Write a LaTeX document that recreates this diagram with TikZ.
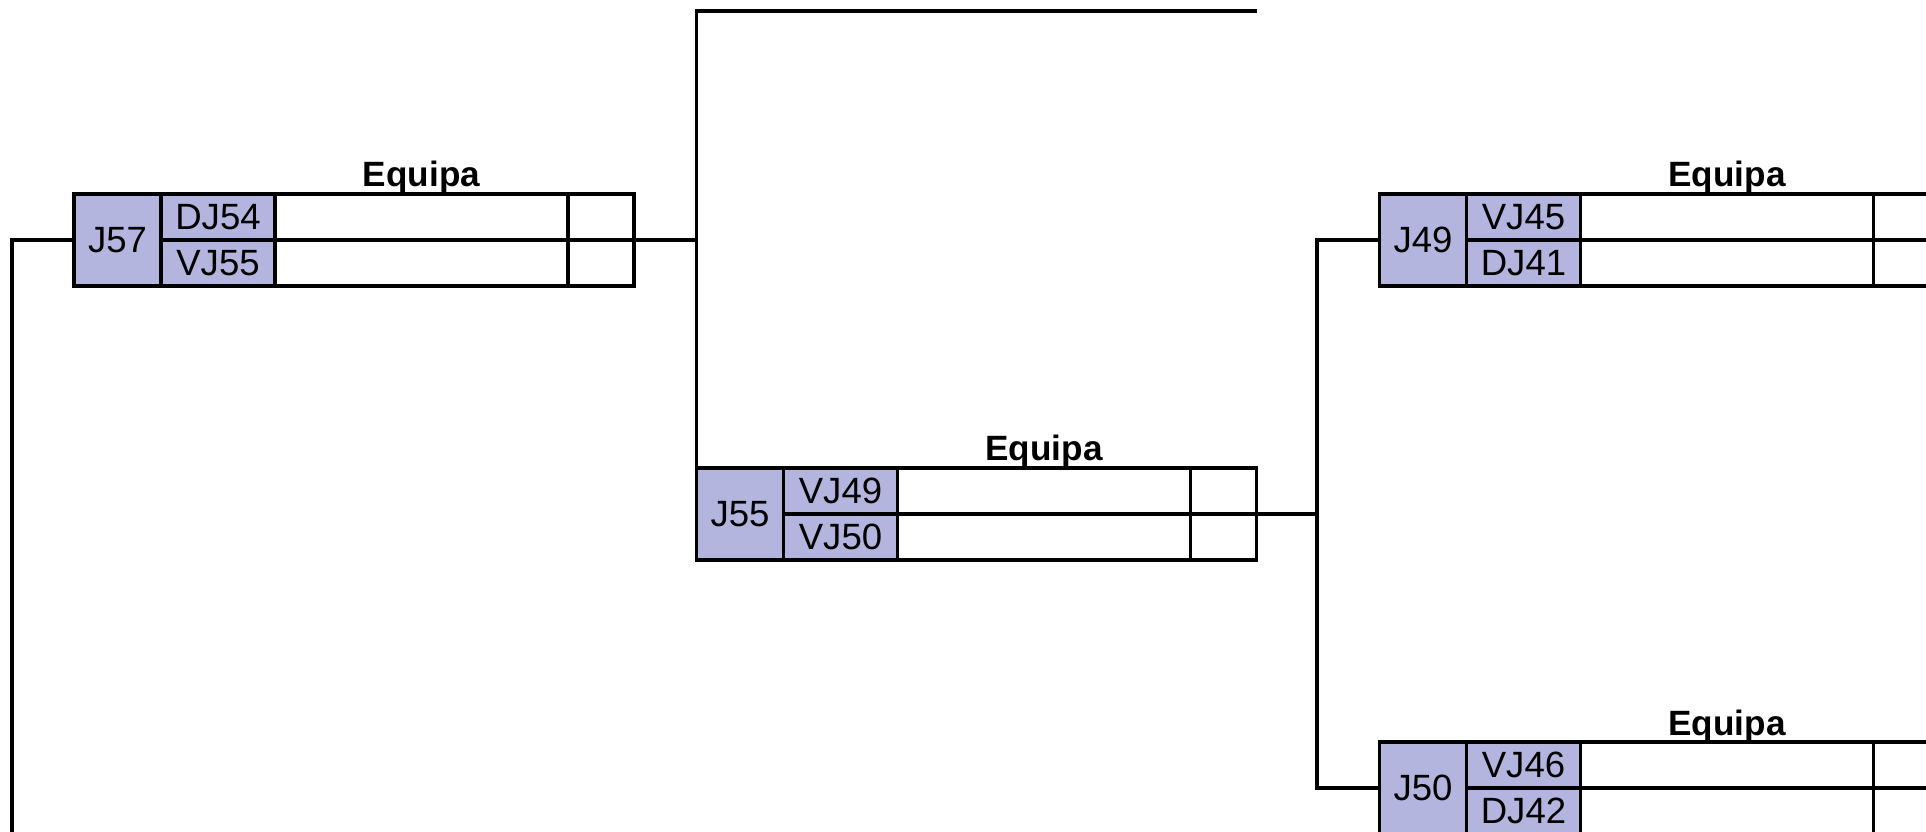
\documentclass[tikz,border=0pt]{standalone}
\usepackage{fontspec}
\setmainfont{Liberation Sans}
\definecolor{lilas}{RGB}{179,181,222}
\begin{document}
\begin{tikzpicture}[line width=0.9pt,
  every node/.style={inner sep=0pt, outer sep=0pt, font=\fontsize{10.4}{13}\selectfont},
  jogo/.style={draw, fill=lilas, minimum width=0.87cm, minimum height=0.92cm},
  rot/.style={draw, fill=lilas, minimum width=1.14cm, minimum height=0.46cm},
  nome/.style={draw, minimum width=2.93cm, minimum height=0.46cm},
  pts/.style={draw, minimum width=0.66cm, minimum height=0.46cm},
  titulo/.style={font=\bfseries\fontsize{10}{12}\selectfont, anchor=base}]
\useasboundingbox (0,0) rectangle (19.26,-8.32);
% jogos
\foreach \jg/\x/\y/\ca/\cb in {J57/0.74/-1.94/DJ54/VJ55, J55/6.965/-4.68/VJ49/VJ50,
    J49/13.795/-1.94/VJ45/DJ41, J50/13.795/-7.42/VJ46/DJ42}{
  \node[jogo, anchor=north west] (\jg) at (\x,\y) {\jg};
  \node[rot, anchor=north west] (\jg-a) at (\jg.north east) {\ca};
  \node[rot, anchor=north west] (\jg-b) at (\jg-a.south west) {\cb};
  \node[nome, anchor=west] (\jg-na) at (\jg-a.east) {};
  \node[nome, anchor=west] (\jg-nb) at (\jg-b.east) {};
  \node[pts, anchor=west] (\jg-pa) at (\jg-na.east) {};
  \node[pts, anchor=west] (\jg-pb) at (\jg-nb.east) {};
  \node[titulo] (\jg-t) at ([yshift=0.07cm]\jg-na.north) {Equipa};
}
% ligacoes
\coordinate (baixo) at (0.12,-8.32);
\coordinate (topo) at (12.565,-0.11);
\draw (J57.west) -| (baixo);
\draw (J57-pa.south east) -- (J57-pa.south east -| J55.west);
\draw (J55.south west) |- (topo);
\draw (J49.west) -- ++(-0.625,0) coordinate (meio) |- (J50.west);
\draw (J55-pa.south east) -- (J55-pa.south east -| meio);
\end{tikzpicture}
\end{document}
